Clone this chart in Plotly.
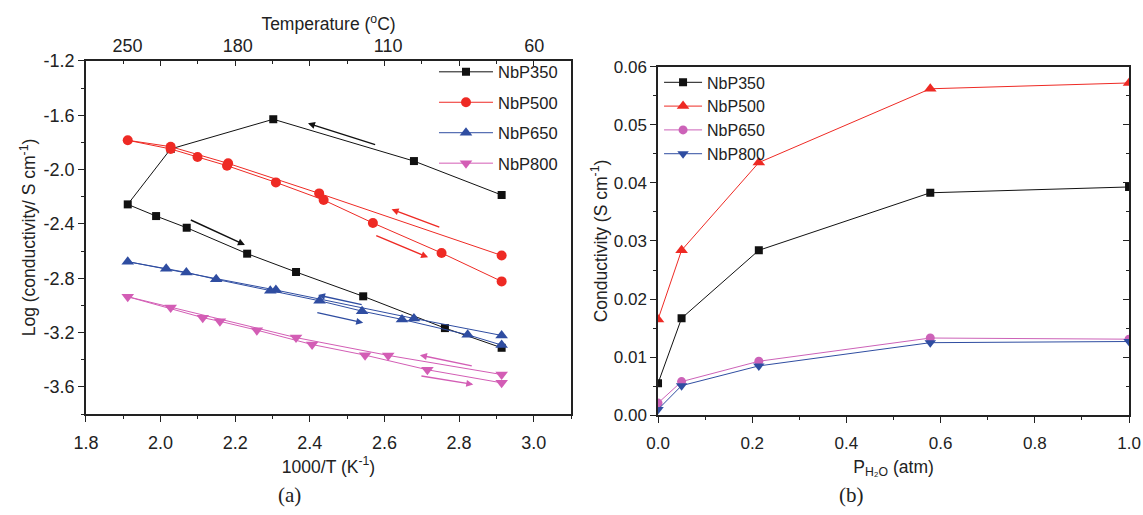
import plotly.graph_objects as go

# ---------------- Panel (a) data: Arrhenius plot ----------------
nbp350_x = [2.914, 2.679, 2.302, 2.027, 1.912, 1.988, 2.070, 2.232, 2.363, 2.543, 2.762, 2.914]
nbp350_y = [-2.187, -1.937, -1.629, -1.848, -2.256, -2.342, -2.428, -2.619, -2.754, -2.933, -3.167, -3.312]

nbp500_x = [2.914, 2.425, 2.181, 2.027, 1.912, 2.027, 2.099, 2.178, 2.309, 2.437, 2.569, 2.753, 2.914]
nbp500_y = [-2.632, -2.175, -1.954, -1.831, -1.784, -1.848, -1.907, -1.971, -2.094, -2.224, -2.393, -2.614, -2.823]

nbp650_x = [2.914, 2.679, 2.309, 2.015, 1.912, 2.069, 2.149, 2.294, 2.426, 2.540, 2.647, 2.823, 2.914]
nbp650_y = [-3.221, -3.096, -2.887, -2.730, -2.678, -2.757, -2.808, -2.892, -2.966, -3.042, -3.103, -3.216, -3.292]

nbp800_x = [2.914, 2.610, 2.363, 2.027, 1.912, 2.113, 2.159, 2.258, 2.406, 2.548, 2.715, 2.914]
nbp800_y = [-3.509, -3.368, -3.237, -3.015, -2.936, -3.090, -3.117, -3.182, -3.288, -3.366, -3.474, -3.570]

temps_c = [250, 180, 110, 60]
y_ticks_a = [-1.2, -1.6, -2.0, -2.4, -2.8, -3.2, -3.6]

# hysteresis arrows: (tail_x, tail_y, head_x, head_y, colour key)
arrows_a = [
    (2.579, -1.819, 2.395, -1.659, "k"),
    (2.077, -2.366, 2.226, -2.555, "k"),
    (2.751, -2.428, 2.619, -2.292, "r"),
    (2.574, -2.482, 2.717, -2.646, "r"),
    (2.543, -2.997, 2.422, -2.924, "b"),
    (2.416, -3.051, 2.543, -3.128, "b"),
    (2.838, -3.447, 2.695, -3.366, "m"),
    (2.695, -3.518, 2.838, -3.582, "m"),
]

# ---------------- Panel (b) data: conductivity vs pH2O ----------------
p_h2o = [0.0, 0.05, 0.214, 0.578, 1.0]
cond_350 = [0.0055, 0.0167, 0.0284, 0.0383, 0.0393]
cond_500 = [0.0165, 0.0284, 0.0435, 0.0562, 0.0572]
cond_650 = [0.0021, 0.0058, 0.0093, 0.0133, 0.0131]
cond_800 = [0.0010, 0.0051, 0.0085, 0.0125, 0.0127]

BLACK = "#111111"
RED = "#ee2a24"
BLUE = "#2f4da1"
PINK = "#d35db5"
PINK_B = "#cc62b8"
AX = "#222222"

FONT = "Liberation Sans, Arial, sans-serif"

fig = go.Figure()

left_series = [
    ("NbP350", nbp350_x, nbp350_y, BLACK, "square", 8),
    ("NbP500", nbp500_x, nbp500_y, RED, "circle", 10),
    ("NbP650", nbp650_x, nbp650_y, BLUE, "triangle-up", 11),
    ("NbP800", nbp800_x, nbp800_y, PINK, "triangle-down", 11),
]
for name, xs, ys, col, sym, sz in left_series:
    fig.add_trace(go.Scatter(
        x=xs, y=ys, mode="lines+markers", name=name,
        line=dict(color=col, width=1),
        marker=dict(symbol=sym, size=sz, color=col),
        xaxis="x", yaxis="y", legend="legend", legendgroup="a" + name,
    ))

right_series = [
    ("NbP350", cond_350, BLACK, "square", 8),
    ("NbP500", cond_500, RED, "triangle-up", 11),
    ("NbP650", cond_650, PINK_B, "circle", 9),
    ("NbP800", cond_800, BLUE, "triangle-down", 10),
]
for name, ys, col, sym, sz in right_series:
    fig.add_trace(go.Scatter(
        x=p_h2o, y=ys, mode="lines+markers", name=name,
        line=dict(color=col, width=1),
        marker=dict(symbol=sym, size=sz, color=col),
        xaxis="x4", yaxis="y2", legend="legend2", legendgroup="b" + name,
    ))

# invisible helper traces so that overlay axes are rendered
for xa, ya in [("x2", "y"), ("x3", "y"), ("x4", "y3")]:
    fig.add_trace(go.Scatter(x=[None], y=[None], xaxis=xa, yaxis=ya,
                             showlegend=False, hoverinfo="skip"))

arrow_cols = {"k": BLACK, "r": RED, "b": BLUE, "m": PINK}
for tx, ty, hx, hy, c in arrows_a:
    fig.add_annotation(x=hx, y=hy, ax=tx, ay=ty, xref="x", yref="y",
                       axref="x", ayref="y", showarrow=True, arrowhead=2,
                       arrowsize=1, arrowwidth=1.4, arrowcolor=arrow_cols[c], text="")

temp_pos = [1000.0 / (t + 273.15) for t in temps_c]

def common(size):
    return dict(showgrid=False, zeroline=False, automargin=False, linecolor=AX, linewidth=1.5,
                tickcolor=AX, tickfont=dict(family=FONT, size=size, color=AX))

TITLE_A = 17.5
TITLE_B = 17.5

fig.update_layout(
    template="none",
    width=1143, height=515,
    margin=dict(l=0, r=0, t=0, b=0),
    paper_bgcolor="white", plot_bgcolor="white",
    font=dict(family=FONT, size=16, color=AX),
    xaxis=dict(domain=[0.0752, 0.4996], anchor="y", range=[1.8, 3.1],
               tickmode="linear", tick0=1.8, dtick=0.2, tickformat=".1f", ticks="outside", ticklen=6,
               ticklabelstandoff=6,
               minor=dict(dtick=0.1, tick0=1.8, ticks="outside", ticklen=3, tickcolor=AX),
               showline=True, title=dict(text="1000/T (K<sup>-1</sup>)", standoff=8,
                                         font=dict(family=FONT, size=TITLE_A)),
               **common(18)),
    xaxis2=dict(overlaying="x", anchor="y", side="top", range=[1.8, 3.1],
                tickmode="array", tickvals=temp_pos, ticktext=[str(t) for t in temps_c],
                ticks="", showline=True,
                title=dict(text="Temperature (<sup>o</sup>C)", standoff=1,
                           font=dict(family=FONT, size=TITLE_A)),
                **common(18)),
    xaxis3=dict(overlaying="x", anchor="y", side="top", range=[1.8, 3.1],
                tickmode="linear", tick0=1.8, dtick=0.2, ticks="inside", ticklen=5,
                showticklabels=False,
                minor=dict(dtick=0.1, tick0=1.8, ticks="inside", ticklen=3, tickcolor=AX),
                showline=False, **common(18)),
    yaxis=dict(domain=[0.196, 0.8816], anchor="x", range=[-3.8, -1.2],
               tickmode="array", tickvals=y_ticks_a, ticktext=[f"{v:.1f}" for v in y_ticks_a],
               ticks="outside", ticklen=6,
               minor=dict(tickmode="linear", tick0=-1.2, dtick=0.2, ticks="outside", ticklen=3,
                          tickcolor=AX),
               showline=True, mirror=True,
               title=dict(text="Log (conductivity/ S cm<sup>-1</sup>)", standoff=3,
                          font=dict(family=FONT, size=TITLE_A)),
               **common(18)),
    xaxis4=dict(domain=[0.5757, 0.9878], anchor="y2", range=[0, 1],
                tickmode="linear", tick0=0, dtick=0.2, tickformat=".1f", ticks="outside", ticklen=6,
                ticklabelstandoff=6,
                minor=dict(dtick=0.1, tick0=0, ticks="outside", ticklen=3, tickcolor=AX),
                showline=True, mirror=True,
                title=dict(text="P<sub>H₂O</sub> (atm)", standoff=8,
                           font=dict(family=FONT, size=TITLE_B)),
                **common(17)),
    yaxis2=dict(domain=[0.1936, 0.8705], anchor="x4", range=[0, 0.06],
                tickmode="linear", tick0=0, dtick=0.01, tickformat=".2f", ticks="outside", ticklen=6,
                minor=dict(dtick=0.005, tick0=0, ticks="outside", ticklen=3, tickcolor=AX),
                showline=True,
                title=dict(text="Conductivity (S cm<sup>-1</sup>)", standoff=2,
                           font=dict(family=FONT, size=TITLE_B)),
                **common(17)),
    yaxis3=dict(overlaying="y2", anchor="x4", side="right", range=[0, 0.06],
                tickmode="linear", tick0=0, dtick=0.01, ticks="inside", ticklen=6,
                showticklabels=False,
                minor=dict(dtick=0.005, tick0=0, ticks="inside", ticklen=3, tickcolor=AX),
                showline=True, **common(17)),
    legend=dict(x=0.3797, y=0.894, xanchor="left", yanchor="top", bgcolor="rgba(0,0,0,0)",
                font=dict(family=FONT, size=16.5, color=AX), tracegroupgap=6, itemwidth=54),
    legend2=dict(x=0.5766, y=0.873, xanchor="left", yanchor="top", bgcolor="rgba(0,0,0,0)",
                 font=dict(family=FONT, size=16, color=AX), tracegroupgap=0, itemwidth=38),
    showlegend=True,
)

fig.add_annotation(text="(a)", x=0.2537, y=0.038, xref="paper", yref="paper", showarrow=False,
                   xanchor="center", yanchor="middle",
                   font=dict(family="Liberation Serif, DejaVu Serif, serif", size=21, color=AX))
fig.add_annotation(text="(b)", x=0.7454, y=0.038, xref="paper", yref="paper", showarrow=False,
                   xanchor="center", yanchor="middle",
                   font=dict(family="Liberation Serif, DejaVu Serif, serif", size=21, color=AX))

fig.write_html("out.html", config={"displayModeBar": False},
               post_script="document.body.style.margin='0px';document.body.style.overflow='hidden';")
